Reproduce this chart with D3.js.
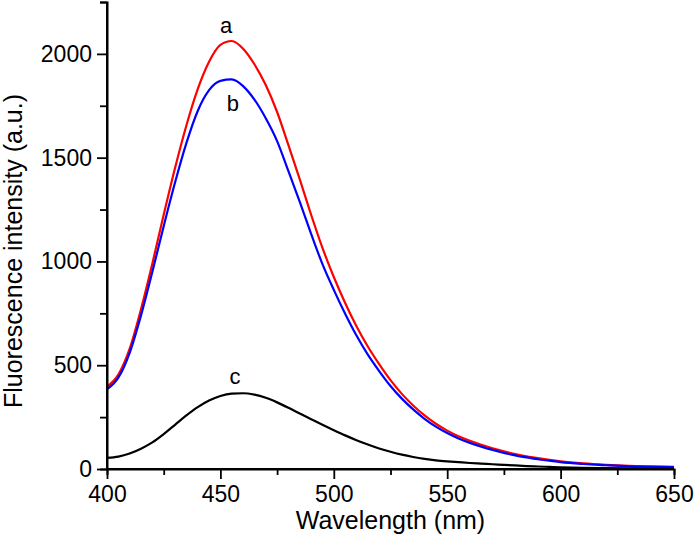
<!DOCTYPE html>
<html><head><meta charset="utf-8">
<script src="https://cdn.jsdelivr.net/npm/d3@7"></script>
<style>body{margin:0;background:#fff}svg{display:block}text{font-family:"Liberation Sans",Arial,sans-serif;fill:#000}</style>
</head><body>
<svg id="c" width="696" height="539"></svg>
<script>
const wavelengths = [400,405,410,415,420,425,430,435,440,445,450,455,460,465,470,475,480,485,490,495,500,505,510,515,520,525,530,535,540,545,550,555,560,565,570,575,580,585,590,595,600,610,620,630,640,650];
const seriesA = [397,455,580,770,990,1225,1450,1655,1830,1962,2043,2062,2025,1950,1850,1720,1560,1395,1225,1065,925,800,688,590,505,428,362,306,258,218,185,158,136,117,100,85,72,61,52,44,37,27,20,15,12,10];
const seriesB = [384,440,560,740,950,1170,1380,1570,1725,1825,1870,1877,1845,1780,1690,1580,1435,1287,1133,987,863,748,643,551,472,400,339,287,242,204,173,147,126,108,92,78,66,56,47,40,33,24,18,13,11,9];
const seriesC = [54,60,75,98,128,168,213,258,298,330,352,363,365,358,343,321,295,267,240,213,187,162,139,118,99,83,69,58,49,42,37,33,29,26,23,20,17,14,12,10,8,5,4,3,2,1];
const seriesNames = ["a","b","c"];
const seriesColors = ["#ff0000","#0000ff","#000000"];
const xTicks = [400,450,500,550,600,650];
const yTicks = [0,500,1000,1500,2000];
const xMinor = [425,475,525,575,625];
const yMinor = [250,750,1250,1750,2250];
const labelPos = [[452.5,2100],[455.5,1725],[456.4,410]]; // data-space anchors for a, b, c

const svg = d3.select("#c");
const m = {l:107, t:2, r:22, b:70};
const W = 696 - m.l - m.r, H = 539 - m.t - m.b;
const x = d3.scaleLinear().domain([400,650]).range([m.l, m.l+W]);
const y = d3.scaleLinear().domain([0,2250]).range([m.t+H, m.t]);

const series = [seriesA, seriesB, seriesC];
const line = d3.line().x(d=>x(d[0])).y(d=>y(d[1])).curve(d3.curveMonotoneX);
series.forEach((s,i)=>{
  svg.append("path").datum(wavelengths.map((w,j)=>[w,s[j]]))
    .attr("d", line).attr("fill","none").attr("stroke",seriesColors[i]).attr("stroke-width",2.2);
});

// axes
const xa = svg.append("g").attr("transform",`translate(0,${m.t+H})`)
  .call(d3.axisBottom(x).tickValues(xTicks).tickSize(10).tickPadding(6).tickFormat(d3.format("d")));
xa.append("g").call(d3.axisBottom(x).tickValues(xMinor).tickSize(6).tickFormat(""));
const ya = svg.append("g").attr("transform",`translate(${m.l},0)`)
  .call(d3.axisLeft(y).tickValues(yTicks).tickSize(10).tickPadding(5).tickFormat(d3.format("d")));
ya.append("g").call(d3.axisLeft(y).tickValues(yMinor).tickSize(7).tickFormat(""));
svg.selectAll(".domain").attr("stroke","#000").attr("stroke-width",2);
svg.selectAll(".tick line").attr("stroke","#000").attr("stroke-width",1.8);
svg.selectAll(".tick text").attr("font-size",23).attr("font-family","Liberation Sans, Arial, sans-serif");
xa.select(".domain").attr("d",`M${m.l},0H${m.l+W}`);
ya.select(".domain").attr("d",`M0,${m.t}V${m.t+H}`);
xa.selectAll(".tick text").attr("dy","0.76em");

svg.append("text").attr("x",(m.l+m.l+W)/2).attr("y",529).attr("text-anchor","middle")
  .attr("font-size",25).text("Wavelength (nm)");
svg.append("text").attr("transform",`translate(22,251) rotate(-90)`).attr("text-anchor","middle")
  .attr("font-size",25).text("Fluorescence intensity (a.u.)");

seriesNames.forEach((n,i)=>{
  svg.append("text").attr("x",x(labelPos[i][0])).attr("y",y(labelPos[i][1])).attr("text-anchor","middle")
    .attr("font-size",22).text(n);
});
</script>
</body></html>
